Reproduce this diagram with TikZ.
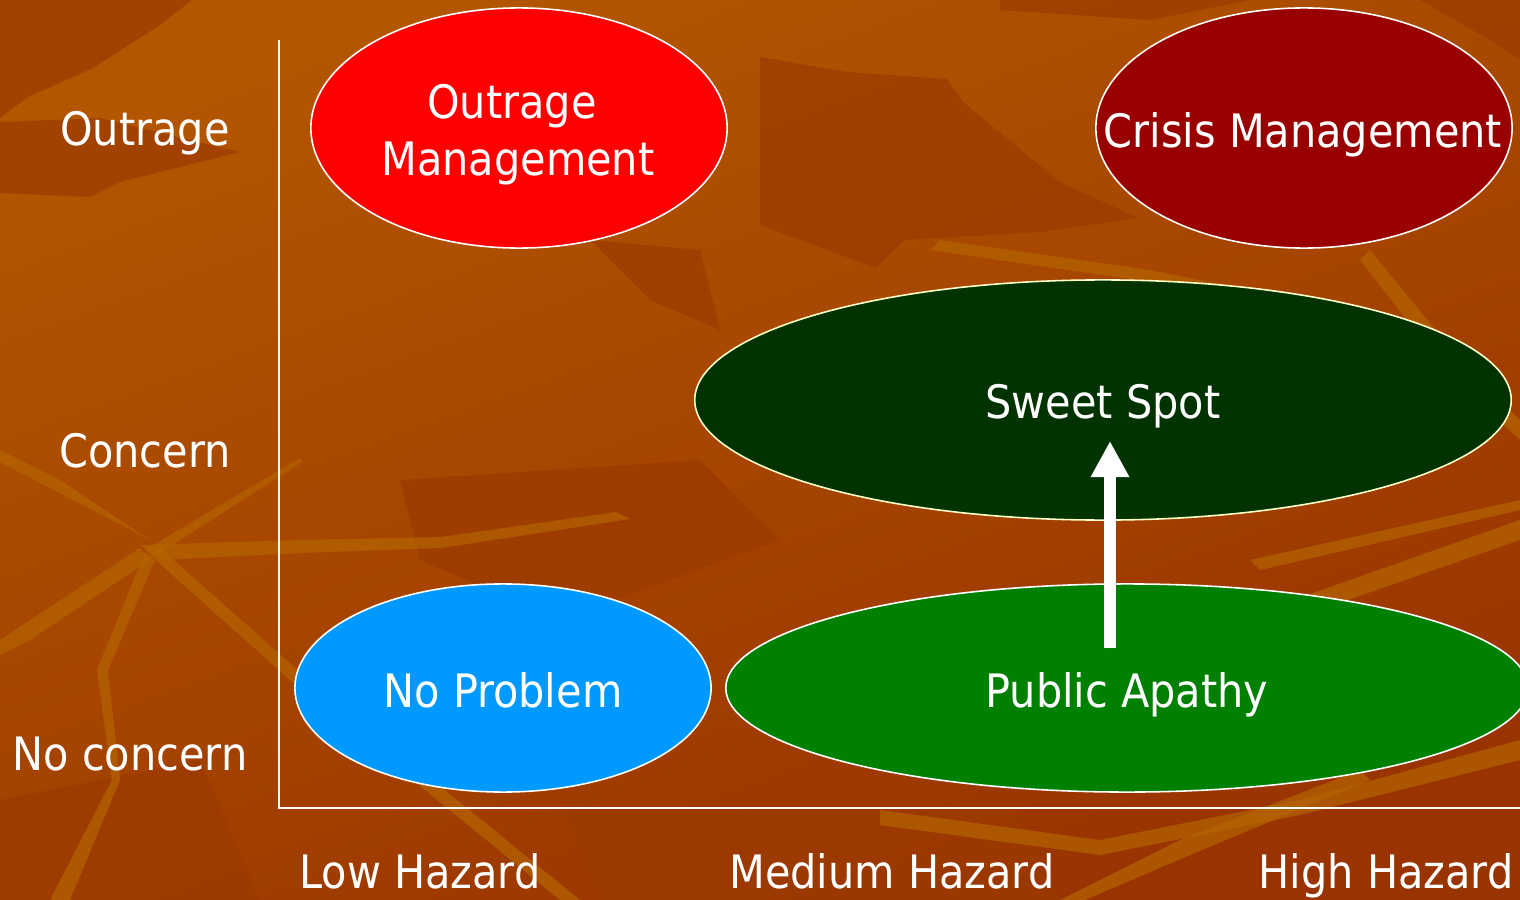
\documentclass[tikz,border=0pt]{standalone}
\usepackage{fontspec}
\setmainfont{DejaVu Sans Condensed}
\usetikzlibrary{shapes.geometric,arrows.meta}

\definecolor{bgtop}{HTML}{B35600}
\definecolor{bgbot}{HTML}{993300}
\definecolor{bgdark}{HTML}{9C3A00}
\definecolor{bglight}{HTML}{B46400}
\definecolor{outrage}{HTML}{FF0000}
\definecolor{crisis}{HTML}{990000}
\definecolor{sweet}{HTML}{003300}
\definecolor{noprob}{HTML}{0099FF}
\definecolor{apathy}{HTML}{008000}
\definecolor{paleedge}{HTML}{FFFFCC}

\tikzset{
  zone/.style={ellipse, draw=white, line width=0.45pt, inner sep=0pt},
  lbl/.style={text=white, font=\fontsize{13.1pt}{16pt}\selectfont, inner sep=0pt, anchor=base},
  axisline/.style={draw=white, line width=0.45pt},
  crack/.style={fill=bglight, draw=none, opacity=0.7},
  patch/.style={fill=bgdark, draw=none, opacity=0.7},
}

\begin{document}
\begin{tikzpicture}[x=0.01cm, y=-0.01cm]
\useasboundingbox (0,0) rectangle (1520,900);

% background texture
\shade[top color=bgtop, bottom color=bgbot, shading angle=20] (0,0) rectangle (1520,900);
\fill[patch] (0,0) -- (192,0) -- (160,25) -- (93,68) -- (28,97) -- (0,118) -- cycle;
\fill[patch] (0,122) -- (100,118) -- (240,152) -- (120,182) -- (90,197) -- (0,193) -- cycle;
\fill[patch] (760,57) -- (847,72) -- (947,79) -- (964,103) -- (1060,182) -- (1138,218) -- (1040,232) -- (905,240) -- (876,268) -- (760,225) -- cycle;
\fill[patch] (1000,0) -- (1250,0) -- (1150,20) -- (1000,10) -- cycle;
\fill[patch] (1420,0) -- (1520,0) -- (1520,60) -- (1490,40) -- cycle;
\fill[patch] (590,240) -- (700,250) -- (720,330) -- (650,300) -- cycle;
\fill[patch] (400,480) -- (700,460) -- (780,540) -- (560,620) -- (420,560) -- cycle;
\fill[patch] (0,800) -- (200,760) -- (260,900) -- (0,900) -- cycle;
\fill[patch] (560,810) -- (1020,810) -- (1060,900) -- (600,900) -- cycle;
% light cracks, lower left
\fill[crack] (0,450) -- (60,480) -- (150,540) -- (0,462) -- cycle;
\fill[crack] (140,545) -- (300,540) -- (441,537) -- (616,512) -- (630,519) -- (441,548) -- (300,553) -- (160,560) -- cycle;
\fill[crack] (145,550) -- (300,458) -- (302,462) -- (155,556) -- cycle;
\fill[crack] (140,548) -- (0,640) -- (0,655) -- (30,640) -- (150,560) -- cycle;
\fill[crack] (145,552) -- (97,670) -- (112,780) -- (50,900) -- (70,900) -- (120,780) -- (108,670) -- (155,560) -- cycle;
\fill[crack] (150,555) -- (290,680) -- (560,900) -- (580,900) -- (300,672) -- (160,548) -- cycle;
% light cracks, lower right
\fill[crack] (880,810) -- (1100,840) -- (1300,800) -- (1520,740) -- (1520,760) -- (1300,815) -- (1100,855) -- (880,825) -- cycle;
\fill[crack] (1060,900) -- (1180,840) -- (1360,770) -- (1370,780) -- (1190,855) -- (1085,900) -- cycle;
\fill[crack] (1180,640) -- (1520,520) -- (1520,540) -- (1190,655) -- cycle;
\fill[crack] (1370,250) -- (1460,360) -- (1520,420) -- (1520,440) -- (1450,375) -- (1360,260) -- cycle;
\fill[crack] (1250,560) -- (1520,500) -- (1520,510) -- (1260,570) -- cycle;
\fill[crack] (940,240) -- (1150,270) -- (1300,300) -- (1290,310) -- (1150,282) -- (930,250) -- cycle;

% axes
\coordinate (origin) at (279,808);
\coordinate (ytop) at (279,40);
\coordinate (xend) at (1520,808);
\draw[axisline] (ytop) -- (origin) -- (xend);

% zones
\node[zone, fill=outrage, minimum width=4.16cm, minimum height=2.40cm] (om) at (519,128) {};
\node[zone, fill=crisis, minimum width=4.16cm, minimum height=2.40cm] (cm) at (1304,128) {};
\node[zone, fill=sweet, draw=paleedge, minimum width=8.16cm, minimum height=2.40cm] (ss) at (1103,400) {};
\node[zone, fill=noprob, minimum width=4.16cm, minimum height=2.08cm] (np) at (503,688) {};
\node[zone, fill=apathy, minimum width=8.02cm, minimum height=2.08cm] (pa) at (1127,688) {};

% zone titles
\node[lbl] (om1) at (512,118) {Outrage};
\node[lbl] (om2) at (518,175) {Management};
\node[lbl] (cmt) at (1303,147) {Crisis Management};
\node[lbl] (sst) at (1103,418) {Sweet Spot};
\node[lbl] (npt) at (503,707) {No Problem};
\node[lbl] (pat) at (1127,707) {Public Apathy};

% shift from apathy to the sweet spot
\coordinate (arrowfoot) at (1110,648);
\coordinate (arrowtip) at (1110,441);
\draw[white, line width=0.12cm, -{Triangle[width=0.36cm, length=0.36cm]}] (arrowfoot) -- (arrowtip);

% axis labels
\node[lbl] (yout) at (145,146) {Outrage};
\node[lbl] (ycon) at (145,467) {Concern};
\node[lbl] (ynone) at (130,770) {No concern};
\node[lbl] (xlow) at (420,888) {Low Hazard};
\node[lbl] (xmed) at (892,888) {Medium Hazard};
\node[lbl] (xhigh) at (1386,888) {High Hazard};
\end{tikzpicture}
\end{document}
